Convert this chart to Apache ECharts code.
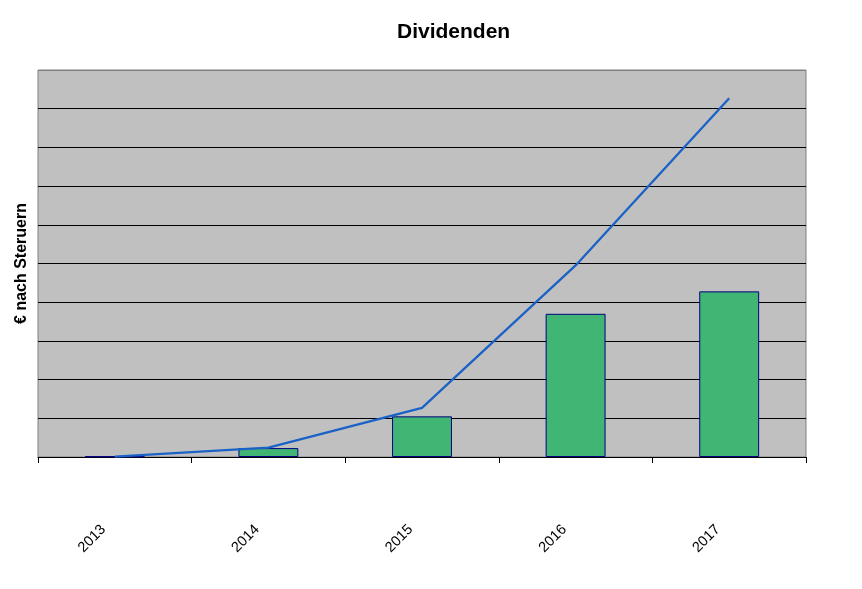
<!DOCTYPE html>
<html>
<head>
<meta charset="utf-8">
<script src="https://cdn.jsdelivr.net/npm/echarts@6/dist/echarts.min.js"></script>
<style>html,body{margin:0;padding:0;background:#fff}#c{width:862px;height:589px}</style>
</head>
<body>
<div id="c"></div>
<script>
const categories = ['2013', '2014', '2015', '2016', '2017'];
const barValues = [0.15, 2.3, 10.5, 37, 42.8];
const lineValues = [0.1, 2.4, 12.7, 49.5, 92.7];
const yMin = 0, yMax = 100, yStep = 10;

const chart = echarts.init(document.getElementById('c'));
const gridColors = [];
for (let i = 0; i < 10; i++) gridColors.push('#000000');
gridColors.push('#808080');
chart.setOption({
  backgroundColor: '#ffffff',
  animation: false,
  title: {
    text: 'Dividenden', left: 392, top: 17,
    textStyle: { fontFamily: 'Liberation Sans', fontSize: 21, fontWeight: 'bold', color: '#000' }
  },
  grid: {
    left: 38, right: 56, top: 70, bottom: 132,
    show: true, backgroundColor: '#c0c0c0', borderColor: '#808080', borderWidth: 1
  },
  xAxis: {
    type: 'category', data: categories, boundaryGap: true,
    axisLine: { lineStyle: { color: '#000', width: 1 } },
    axisTick: { show: true, alignWithLabel: false, length: 6, lineStyle: { color: '#000' } },
    axisLabel: {
      rotate: 45, margin: 59, padding: [0, 16, 0, 0],
      fontFamily: 'Liberation Sans', fontSize: 14.5, color: '#000'
    }
  },
  yAxis: {
    type: 'value', min: yMin, max: yMax, interval: yStep,
    name: '€ nach Steruern', nameLocation: 'middle', nameGap: 8, nameRotate: 90,
    nameTextStyle: { fontFamily: 'Liberation Sans', fontSize: 16, fontWeight: 'bold', color: '#000' },
    axisLine: { show: false }, axisTick: { show: false }, axisLabel: { show: false },
    splitLine: { show: true, lineStyle: { color: gridColors, width: 1 } }
  },
  series: [
    {
      type: 'bar', data: barValues, barWidth: '39%',
      itemStyle: { color: '#41b574', borderColor: '#000080', borderWidth: 1 }
    },
    {
      type: 'line', data: lineValues, symbol: 'none',
      lineStyle: { color: '#1a62c6', width: 2.3 }
    }
  ]
});
</script>
</body>
</html>
